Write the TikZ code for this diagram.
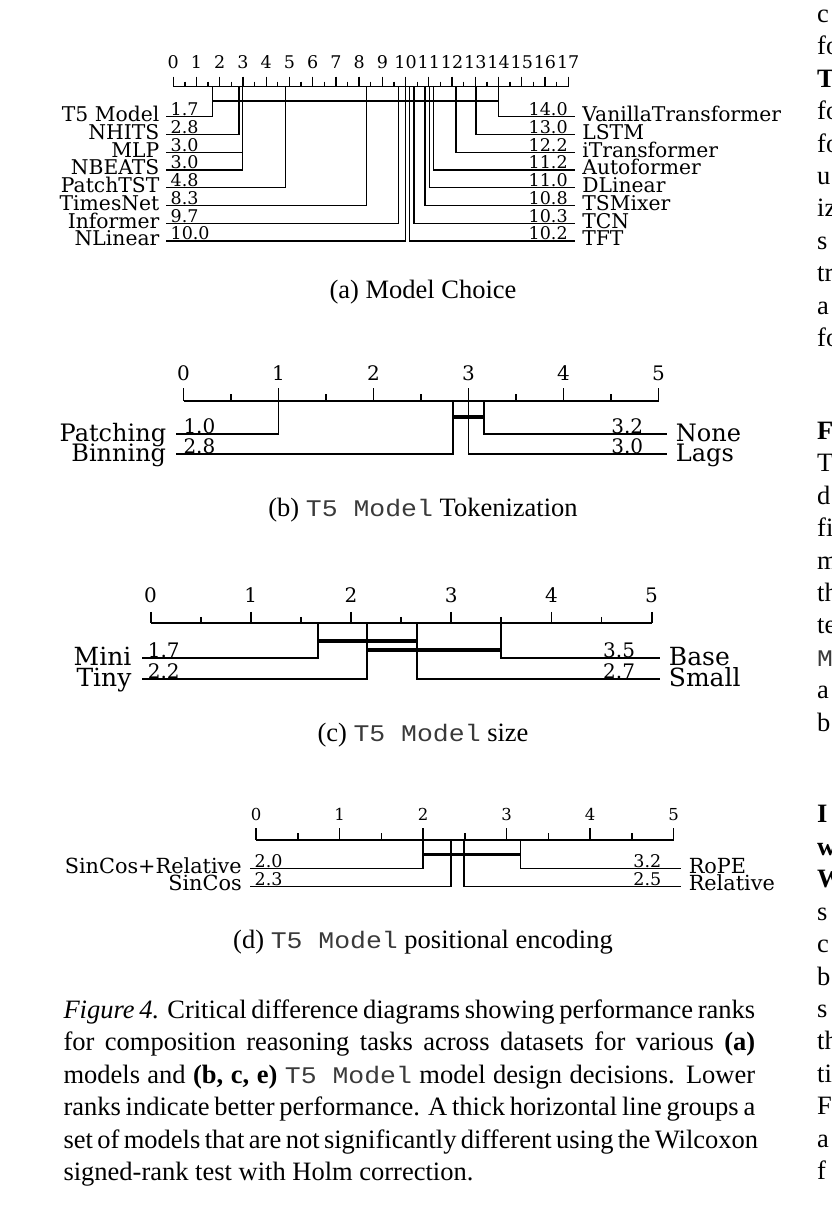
\documentclass[tikz,border=0pt]{standalone}
\usepackage{fontspec}
\setmainfont{Liberation Serif}
\setmonofont[Scale=0.9,FakeStretch=1.11,Color=3A3A3A]{Liberation Mono}
\newfontfamily\cdfont{DejaVu Serif}
\usetikzlibrary{calc}

\tikzset{
  tika/.style={font=\cdfont\fontsize{17.5}{17}\selectfont, inner sep=0pt},
  vala/.style={font=\cdfont\fontsize{17.5}{18}\selectfont, inner sep=0pt},
  nama/.style={font=\cdfont\fontsize{20.3}{20}\selectfont, inner sep=0pt},
  tikb/.style={font=\cdfont\fontsize{20}{21}\selectfont, inner sep=0pt},
  valb/.style={font=\cdfont\fontsize{20}{22}\selectfont, inner sep=0pt},
  namb/.style={font=\cdfont\fontsize{24}{24}\selectfont, inner sep=0pt},
  namc/.style={font=\cdfont\fontsize{25}{25}\selectfont, inner sep=0pt},
  tikd/.style={font=\cdfont\fontsize{16.5}{16}\selectfont, inner sep=0pt},
  vald/.style={font=\cdfont\fontsize{17.5}{17}\selectfont, inner sep=0pt},
  namd/.style={font=\cdfont\fontsize{20.8}{21}\selectfont, inner sep=0pt},
  subcap/.style={font=\fontsize{26.5}{32.45}\selectfont, inner sep=0pt, anchor=base},
  capline/.style={font=\fontsize{26.5}{32.45}\selectfont, inner sep=0pt, anchor=base west},
  colfrag/.style={font=\fontsize{26.5}{32.45}\selectfont, inner sep=0pt, anchor=base west},
  cdbar/.style={line width=#1},
}

\begin{document}
\begin{tikzpicture}[x=1pt, y=-1pt]
\useasboundingbox (0,0) rectangle (831,1219);

% (a) model choice
\begin{scope}[line width=1.3pt]
\draw (173.3,86.7) -- (568.3,86.7);
\foreach \k in {0,...,17}{
  \draw ({173.3+23.23*\k},76.7) -- ({173.3+23.23*\k},86.7);
  \node[tika, anchor=base] (ta\k) at ({173.3+23.23*\k},68.3) {\k};
}
\foreach \k in {0,...,16}
  \draw ({173.3+23.23*(\k+0.5)},81.7) -- ({173.3+23.23*(\k+0.5)},86.7);
\foreach \rk/\nm/\vl [count=\i from 0] in {1.68/T5 Model/1.7, 2.83/NHITS/2.8,
    2.97/MLP/3.0, 2.99/NBEATS/3.0, 4.84/PatchTST/4.8, 8.32/TimesNet/8.3,
    9.69/Informer/9.7, 10.0/NLinear/10.0}{
  \draw ({173.3+23.23*\rk},86.7) |- (166,{116.7+17.75*\i});
  \node[nama, anchor=base east] (nla\i) at (160,{121.7+17.75*\i}) {\nm};
  \node[vala, anchor=base west] (vla\i) at (170,{115.7+17.75*\i}) {\vl};
}
\foreach \rk/\nm/\vl [count=\i from 0] in {13.99/VanillaTransformer/14.0,
    13.03/LSTM/13.0, 12.17/iTransformer/12.2, 11.2/Autoformer/11.2,
    11.02/DLinear/11.0, 10.84/TSMixer/10.8, 10.36/TCN/10.3, 10.16/TFT/10.2}{
  \draw ({173.3+23.23*\rk},86.7) |- (575,{116.7+17.75*\i});
  \node[nama, anchor=base west] (nra\i) at (581.7,{121.7+17.75*\i}) {\nm};
  \node[vala, anchor=base east] (vra\i) at (568.3,{115.7+17.75*\i}) {\vl};
}
\draw[cdbar=2.7pt] (212.3,101) -- (498.3,101);
\end{scope}
\node[subcap] (capa) at (423,298.5) {(a) Model Choice};

% (b) tokenization
\begin{scope}[line width=1.8pt]
\draw (183.5,401) -- (658.5,401);
\foreach \k in {0,...,5}{
  \draw ({183.5+95*\k},388.3) -- ({183.5+95*\k},401);
  \node[tikb, anchor=base] (tb\k) at ({183.5+95*\k},380.7) {\k};
}
\foreach \k in {0,...,4}
  \draw ({183.5+95*(\k+0.5)},394) -- ({183.5+95*(\k+0.5)},401);
\foreach \rk/\nm/\vl [count=\i from 0] in {1.0/Patching/1.0, 2.84/Binning/2.8}{
  \draw ({183.5+95*\rk},401) |- (176.3,{434.3+20*\i});
  \node[namb, anchor=base east] (nlb\i) at (167,{441.7+20*\i}) {\nm};
  \node[valb, anchor=base west] (vlb\i) at (182.6,{433.3+20*\i}) {\vl};
}
\foreach \rk/\nm/\vl [count=\i from 0] in {3.16/None/3.2, 3.0/Lags/3.0}{
  \draw ({183.5+95*\rk},401) |- (666.7,{434.3+20*\i});
  \node[namb, anchor=base west] (nrb\i) at (675,{441.7+20*\i}) {\nm};
  \node[valb, anchor=base east] (vrb\i) at (644,{433.3+20*\i}) {\vl};
}
\draw[cdbar=4pt] (453.3,417.3) -- (483.7,417.3);
\end{scope}
\node[subcap] (capb) at (423,516.7) {(b) \texttt{T5 Model} Tokenization};

% (c) size
\begin{scope}[line width=1.8pt]
\draw (150.6,623.3) -- (651.6,623.3);
\foreach \k in {0,...,5}{
  \draw ({150.6+100.2*\k},611.8) -- ({150.6+100.2*\k},623.3);
  \node[tikb, anchor=base] (tc\k) at ({150.6+100.2*\k},602.7) {\k};
}
\foreach \k in {0,...,4}
  \draw ({150.6+100.2*(\k+0.5)},616.8) -- ({150.6+100.2*(\k+0.5)},623.3);
\foreach \rk/\nm/\vl [count=\i from 0] in {1.67/Mini/1.7, 2.16/Tiny/2.2}{
  \draw ({150.6+100.2*\rk},623.3) |- (141.7,{658.3+21*\i});
  \node[namc, anchor=base east] (nlc\i) at (132.3,{665+21*\i}) {\nm};
  \node[valb, anchor=base west] (vlc\i) at (147,{657.3+21*\i}) {\vl};
}
\foreach \rk/\nm/\vl [count=\i from 0] in {3.5/Base/3.5, 2.66/Small/2.7}{
  \draw ({150.6+100.2*\rk},623.3) |- (659.6,{658.3+21*\i});
  \node[namc, anchor=base west] (nrc\i) at (668,{665+21*\i}) {\nm};
  \node[valb, anchor=base east] (vrc\i) at (635.9,{657.3+21*\i}) {\vl};
}
\draw[cdbar=4pt] (317.9,640.7) -- (417.1,640.7);
\draw[cdbar=4pt] (367,649.7) -- (501.3,649.7);
\end{scope}
\node[subcap] (capc) at (423,741.7) {(c) \texttt{T5 Model} size};

% (d) positional encoding
\begin{scope}[line width=1.5pt]
\draw (256.2,840) -- (673.7,840);
\foreach \k in {0,...,5}{
  \draw ({256.2+83.5*\k},828.3) -- ({256.2+83.5*\k},840);
  \node[tikd, anchor=base] (td\k) at ({256.2+83.5*\k},820.7) {\k};
}
\foreach \k in {0,...,4}
  \draw ({256.2+83.5*(\k+0.5)},833.3) -- ({256.2+83.5*(\k+0.5)},840);
\foreach \rk/\nm/\vl [count=\i from 0] in {2.0/SinCos+Relative/2.0, 2.33/SinCos/2.3}{
  \draw ({256.2+83.5*\rk},840) |- (249.6,{868.7+17.6*\i});
  \node[namd, anchor=base east] (nld\i) at (242.5,{873.3+17.6*\i}) {\nm};
  \node[vald, anchor=base west] (vld\i) at (253.9,{867.7+17.6*\i}) {\vl};
}
\foreach \rk/\nm/\vl [count=\i from 0] in {3.165/RoPE/3.2, 2.49/Relative/2.5}{
  \draw ({256.2+83.5*\rk},840) |- (681,{868.7+17.6*\i});
  \node[namd, anchor=base west] (nrd\i) at (688,{873.3+17.6*\i}) {\nm};
  \node[vald, anchor=base east] (vrd\i) at (662,{867.7+17.6*\i}) {\vl};
}
\draw[cdbar=3.5pt] (423.2,854.3) -- (520.5,854.3);
\end{scope}
\node[subcap] (capd) at (423,948.3) {(d) \texttt{T5 Model} positional encoding};

% figure caption, one node per line
\node[capline] (cap1) at (63.3,1018.3) {\makebox[691.7pt][s]{\textit{Figure 4.} Critical difference diagrams showing performance ranks}};
\node[capline] (cap2) at (63.3,1050.75) {\makebox[691.7pt][s]{for composition reasoning tasks across datasets for various \textbf{(a)}}};
\node[capline] (cap3) at (63.3,1083.2) {\makebox[691.7pt][s]{models and \textbf{(b, c, e)} \texttt{T5 Model} model design decisions. Lower}};
\node[capline] (cap4) at (63.3,1115.65) {\makebox[691.7pt][s]{ranks indicate better performance. A thick horizontal line groups a}};
\node[capline] (cap5) at (63.3,1148.1) {\makebox[691.7pt][s]{set of models that are not significantly different using the Wilcoxon}};
\node[capline] (cap6) at (63.3,1180.55) {signed-rank test with Holm correction.};

% cut-off neighbouring column
\begin{scope}
\clip (0,0) rectangle (831,1219);
\foreach \yy/\tx [count=\i] in {22/c, 54.5/fo, 87/\textbf{T}, 119.5/fo, 152/fo,
    184/u, 216.5/iz, 249/s, 281.5/tr, 314/a, 346.5/fo, 439/\textbf{F}, 471.5/T,
    504/d, 536.5/fi, 569/m, 601/th, 633.5/te, 666/\texttt{M}, 698.5/a, 731/b,
    822.5/\textbf{I}, 855/\textbf{w}, 887.5/\textbf{W}, 920/s, 952/c, 985/b,
    1017/s, 1049.5/th, 1082/ti, 1114.5/F, 1147/a, 1179.5/f}
  \node[colfrag] (rc\i) at (817,\yy) {\tx};
\end{scope}
\end{tikzpicture}
\end{document}
